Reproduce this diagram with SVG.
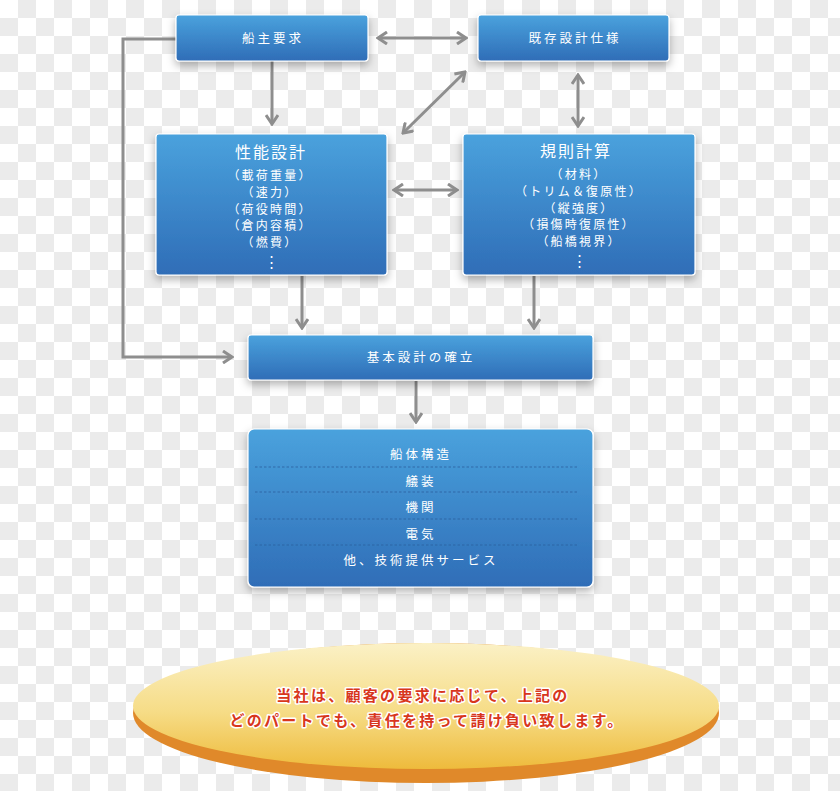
<svg xmlns="http://www.w3.org/2000/svg" width="840" height="791" viewBox="0 0 840 791">
<defs>
<pattern id="checker" width="36" height="36" patternUnits="userSpaceOnUse">
<rect width="36" height="36" fill="#ffffff"/>
<rect x="18" y="0" width="18" height="18" fill="#ebebeb"/>
<rect x="0" y="18" width="18" height="18" fill="#ebebeb"/>
</pattern>
<linearGradient id="blue" x1="0" y1="0" x2="0" y2="1">
<stop offset="0" stop-color="#4aa2dd"/>
<stop offset="1" stop-color="#2f6db7"/>
</linearGradient>
<linearGradient id="gold" x1="0" y1="0" x2="0" y2="1">
<stop offset="0" stop-color="#fbf1c6"/>
<stop offset="0.55" stop-color="#f6dc86"/>
<stop offset="1" stop-color="#eebb3c"/>
</linearGradient>
<filter id="shadow" x="-10%" y="-20%" width="120%" height="160%">
<feDropShadow dx="0" dy="4" stdDeviation="4" flood-color="#000" flood-opacity="0.3"/>
</filter>
<marker id="chev" viewBox="0 0 12 14" refX="10" refY="7" markerWidth="12" markerHeight="14" markerUnits="userSpaceOnUse" orient="auto-start-reverse">
<path d="M1,1 L10,7 L1,13" fill="none" stroke="#8e8e8e" stroke-width="3"/>
</marker>
</defs>
<style>
.box{fill:url(#blue);stroke:#ffffff;stroke-width:1.2;filter:url(#shadow)}
.lbl{font-family:"Noto Sans CJK JP","Noto Sans",sans-serif;fill:#ffffff;font-size:12.5px;letter-spacing:3px;text-anchor:middle;dominant-baseline:central}
.ttl{font-family:"Noto Sans CJK JP","Noto Sans",sans-serif;fill:#ffffff;font-size:16px;letter-spacing:2px;text-anchor:middle;dominant-baseline:central}
.sub{font-family:"Noto Sans CJK JP","Noto Sans",sans-serif;fill:#ffffff;font-size:12px;letter-spacing:2.2px;text-anchor:middle;dominant-baseline:central}
.conn{fill:none;stroke:#8e8e8e;stroke-width:3}
.sep{stroke:#2a5f9e;stroke-width:1;stroke-dasharray:2.5,2;opacity:0.8}
.msg{font-family:"Noto Sans CJK JP","Noto Sans",sans-serif;font-weight:bold;font-size:15px;letter-spacing:2.3px;fill:#d8361c;stroke:#ffffff;stroke-width:3;paint-order:stroke;stroke-linejoin:round;text-anchor:middle;dominant-baseline:central}
</style>
<rect width="840" height="791" fill="url(#checker)"/>

<g id="connectors">
<line class="conn" x1="272" y1="61" x2="272" y2="124" marker-end="url(#chev)"/>
<line class="conn" x1="378" y1="38" x2="466" y2="38" marker-start="url(#chev)" marker-end="url(#chev)"/>
<line class="conn" x1="465" y1="72" x2="403" y2="133" marker-start="url(#chev)" marker-end="url(#chev)"/>
<line class="conn" x1="578" y1="75" x2="578" y2="126" marker-start="url(#chev)" marker-end="url(#chev)"/>
<line class="conn" x1="394" y1="190" x2="457" y2="190" marker-start="url(#chev)" marker-end="url(#chev)"/>
<polyline class="conn" points="176,39 123,39 123,357 232,357" marker-end="url(#chev)"/>
<line class="conn" x1="302" y1="276" x2="302" y2="328" marker-end="url(#chev)"/>
<line class="conn" x1="534" y1="276" x2="534" y2="328" marker-end="url(#chev)"/>
<line class="conn" x1="416" y1="381" x2="416" y2="422" marker-end="url(#chev)"/>
</g>

<g id="owner-req">
<rect class="box" x="176" y="15" width="192" height="46" rx="3"/>
<text class="lbl" x="273" y="37">船主要求</text>
</g>

<g id="existing-spec">
<rect class="box" x="478" y="15" width="191" height="46" rx="3"/>
<text class="lbl" x="575" y="37">既存設計仕様</text>
</g>

<g id="performance-design">
<rect class="box" x="156" y="134" width="231" height="141" rx="3"/>
<text class="ttl" x="271" y="151">性能設計</text>
<text class="sub" x="270" y="174">（載荷重量）</text>
<text class="sub" x="270" y="191">（速力）</text>
<text class="sub" x="270" y="208">（荷役時間）</text>
<text class="sub" x="270" y="224">（倉内容積）</text>
<text class="sub" x="270" y="241">（燃費）</text>
<text class="sub" x="271" y="260" style="font-size:15px;letter-spacing:0">⋮</text>
</g>

<g id="rule-calc">
<rect class="box" x="463" y="134" width="232" height="141" rx="3"/>
<text class="ttl" x="576" y="150">規則計算</text>
<text class="sub" x="579" y="173">（材料）</text>
<text class="sub" x="579" y="190">（トリム＆復原性）</text>
<text class="sub" x="579" y="207">（縦強度）</text>
<text class="sub" x="579" y="223">（損傷時復原性）</text>
<text class="sub" x="579" y="240">（船橋視界）</text>
<text class="sub" x="579" y="259" style="font-size:15px;letter-spacing:0">⋮</text>
</g>

<g id="basic-design">
<rect class="box" x="248" y="335" width="345" height="45" rx="3"/>
<text class="lbl" x="421" y="356">基本設計の確立</text>
</g>

<g id="scope">
<rect class="box" x="248" y="429" width="345" height="158" rx="6"/>
<line class="sep" x1="255" y1="467" x2="578" y2="467"/>
<line class="sep" x1="255" y1="492" x2="578" y2="492"/>
<line class="sep" x1="255" y1="519" x2="578" y2="519"/>
<line class="sep" x1="255" y1="545" x2="578" y2="545"/>
<text class="lbl" x="421" y="453">船体構造</text>
<text class="lbl" x="421" y="480">艤装</text>
<text class="lbl" x="421" y="506">機関</text>
<text class="lbl" x="421" y="533">電気</text>
<text class="lbl" x="421" y="559">他、技術提供サービス</text>
</g>

<g id="statement">
<ellipse cx="426" cy="713" rx="293" ry="70" fill="#e0892a"/>
<ellipse cx="426" cy="706" rx="293" ry="63" fill="url(#gold)"/>
<text class="msg" x="423" y="694">当社は、顧客の要求に応じて、上記の</text>
<text class="msg" x="427" y="719">どのパートでも、責任を持って請け負い致します。</text>
</g>
</svg>
